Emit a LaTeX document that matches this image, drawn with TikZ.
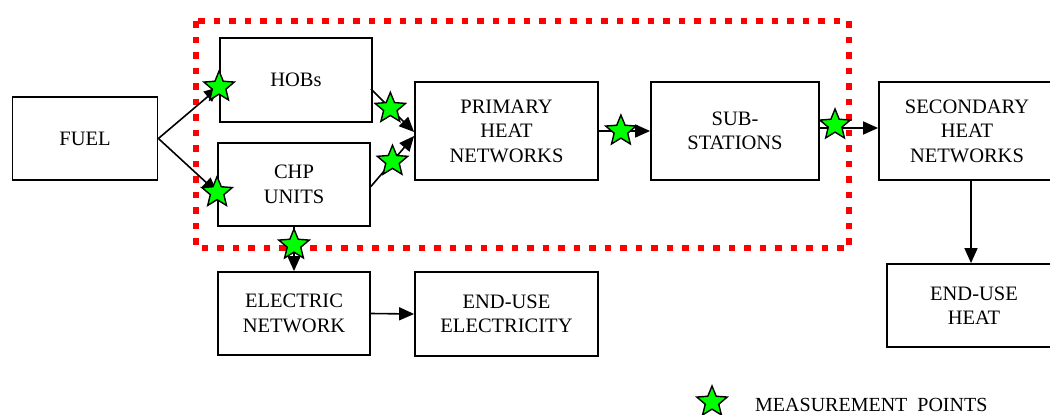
\documentclass[tikz,border=0pt]{standalone}
\usepackage{fontspec}
\setmainfont{Liberation Serif}
\usetikzlibrary{shapes.geometric,arrows.meta,calc}
\definecolor{mgreen}{RGB}{0,255,0}
\definecolor{mred}{RGB}{255,0,0}
\begin{document}
\begin{tikzpicture}[x=1pt,y=-1pt,
  box/.style={draw,line width=1.8pt,inner sep=0pt,align=center,font=\fontsize{20.5}{24.5}\selectfont},
  arr/.style={line width=1.6pt,-{Triangle[length=15pt,width=13pt]}},
  mstar/.style={star,star points=5,star point ratio=2.25,minimum size=32pt,inner sep=0pt,draw=black,line width=1.4pt,fill=mgreen},
  zone/.style={draw=mred,line width=6.5pt,dash pattern=on 6.5pt off 9pt}]
\useasboundingbox (0,0) rectangle (1050,415);
\clip (0,0) rectangle (1050,415);
\fill[white] (0,0) rectangle (1050,415);
% boxes
\node[box,minimum width=145,minimum height=83] (fuel) at (85,138.5) {FUEL};
\node[box,minimum width=152,minimum height=84] (hob) at (296,80) {HOBs};
\node[box,minimum width=152,minimum height=83] (chp) at (294,184.5) {CHP\\UNITS};
\node[box,minimum width=183,minimum height=98] (prim) at (506.5,131) {PRIMARY\\HEAT\\NETWORKS};
\node[box,minimum width=168,minimum height=98] (sub) at (735,131) {SUB-\\STATIONS};
\node[box,minimum width=176,minimum height=98] (sec) at (967,131) {SECONDARY\\HEAT\\NETWORKS};
\node[box,minimum width=174,minimum height=83] (heat) at (974,305.5) {END-USE\\HEAT};
\node[box,minimum width=152,minimum height=83] (elec) at (294,313.5) {ELECTRIC\\NETWORK};
\node[box,minimum width=183,minimum height=84] (euel) at (506.5,314) {END-USE\\ELECTRICITY};
% measurement zone
\draw[zone] (196,21) rectangle (849,248);
% connectors with measurement points
\draw[arr] (fuel.east) -- ($(hob.west)+(0,7)$) node[mstar,pos=1] (s1) {};
\draw[arr] (fuel.east) -- ($(chp.west)+(0,8)$) node[mstar,pos=1] (s2) {};
\draw[arr] ($(hob.east)+(-2,9)$) -- ($(prim.west)+(0,1)$) node[mstar,pos=0.45] (s3) {};
\draw[arr] ($(chp.east)+(0,2)$) -- ($(prim.west)+(0,5)$) node[mstar,pos=0.5] (s4) {};
\draw[arr] (prim.east) -- (sub.west) node[mstar,pos=0.43] (s5) {};
\draw[arr] ($(sub.east)+(0,-3)$) -- ($(sec.west)+(0,-3)$) node[mstar,pos=0.26,yshift=3pt] (s6) {};
\draw[arr] (chp.south) -- (elec.north) node[mstar,pos=0.41] (s7) {};
\draw[arr] (elec.east) -- (euel.west);
\draw[arr] ($(sec.south)+(4,0)$) -- ($(heat.north)+(-3,0)$);
% legend
\node[mstar] (ls) at (712,402) {};
\node[anchor=base west,inner sep=0pt,font=\fontsize{20}{24}\selectfont] (lt) at (755,411) {MEASUREMENT\ \ POINTS};
\end{tikzpicture}
\end{document}
